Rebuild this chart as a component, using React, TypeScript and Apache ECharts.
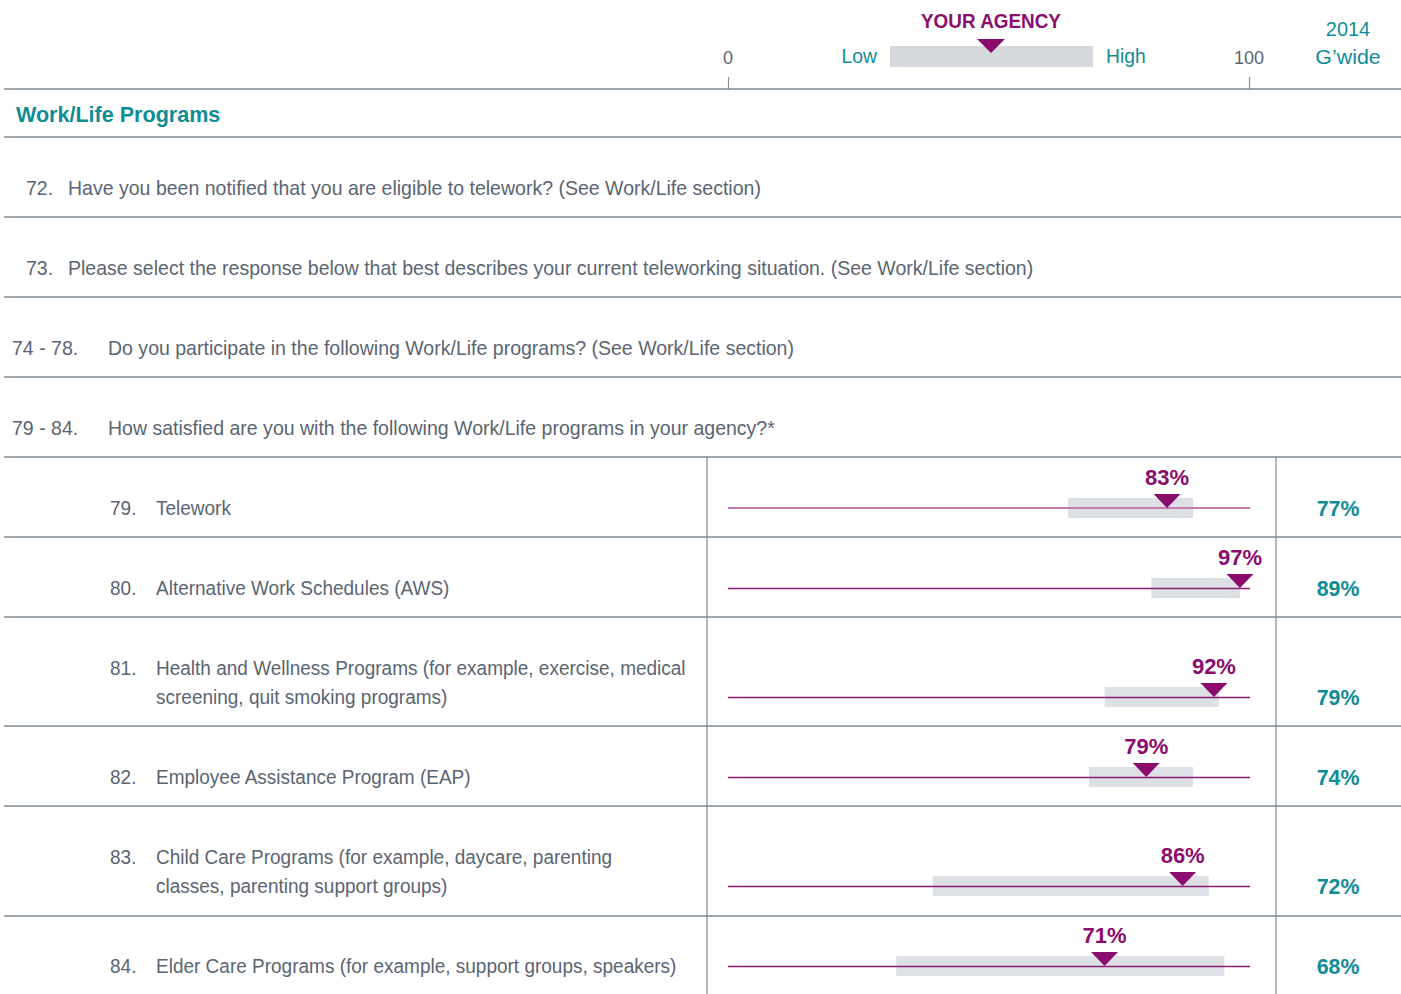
import React, { useEffect, useRef } from 'react';
import * as echarts from 'echarts';

// ---------- data ----------
const introNumbers = ['72.', '73.', '74 - 78.', '79 - 84.'];
const introTexts = [
  'Have you been notified that you are eligible to telework? (See Work/Life section)',
  'Please select the response below that best describes your current teleworking situation. (See Work/Life section)',
  'Do you participate in the following Work/Life programs? (See Work/Life section)',
  'How satisfied are you with the following Work/Life programs in your agency?*',
];
const itemNumbers = ['79.', '80.', '81.', '82.', '83.', '84.'];
const itemLabels = [
  'Telework',
  'Alternative Work Schedules (AWS)',
  'Health and Wellness Programs (for example, exercise, medical\nscreening, quit smoking programs)',
  'Employee Assistance Program (EAP)',
  'Child Care Programs (for example, daycare, parenting\nclasses, parenting support groups)',
  'Elder Care Programs (for example, support groups, speakers)',
];
const agencyScores = [83, 97, 92, 79, 86, 71];
const rangeLow = [64, 80, 71, 68, 38, 31];
const rangeHigh = [88, 97, 93, 88, 91, 94];
const govwide2014 = [77, 89, 79, 74, 72, 68];
const scaleMin = 0;
const scaleMax = 100;

// ---------- layout / style ----------
const SANS = "'Liberation Sans', Arial, sans-serif";
const TEXT = '#5a6573';
const TEAL = '#0f8c95';
const PURPLE = '#8a0d6e';
const RULE = '#7e8893';
const BAND = '#dde1e5';
const BODY_SIZE = 21;
const INTRO_SCALE = 0.93;
const ITEM_SCALE = 0.905;

const rowLineY = [508, 588, 697, 777, 886, 966];
const separators = [89, 137, 217, 297, 377, 457, 537, 617, 726, 806, 916];
const introY = [188, 268, 348, 428];
const introNumX = [26, 26, 12, 12];
const introTextX = [68, 68, 108, 108];
const LINE_H = 29;

function txt(x: number, y: number, text: string, font: string, fill: string, align: string, scaleX = 1, extra: any = {}) {
  return {
    type: 'text',
    x,
    y,
    scaleX,
    silent: true,
    style: { text, font, fill, align, verticalAlign: 'middle', ...extra },
  };
}

export default function App() {
  const ref = useRef<HTMLDivElement>(null);

  useEffect(() => {
    if (!ref.current) return;
    const chart = echarts.init(ref.current, undefined, { renderer: 'svg' });

    const grids: any[] = [{ left: 728, width: 521, top: 89, height: 1 }];
    const xAxes: any[] = [
      {
        gridIndex: 0,
        type: 'value',
        position: 'top',
        min: scaleMin,
        max: scaleMax,
        interval: 100,
        axisLine: { show: false },
        axisTick: { show: true, length: 13, lineStyle: { color: '#8a939c', width: 1.2 } },
        axisLabel: { color: TEXT, fontSize: 18, fontFamily: SANS, margin: 22 },
        splitLine: { show: false },
      },
    ];
    const yAxes: any[] = [{ gridIndex: 0, type: 'value', min: 0, max: 1, show: false }];
    const series: any[] = [{ type: 'scatter', xAxisIndex: 0, yAxisIndex: 0, data: [], silent: true }];

    itemLabels.forEach((label, i) => {
      const g = i + 1;
      grids.push({ left: 728, width: 522, top: rowLineY[i] - 10, height: 20 });
      xAxes.push({ gridIndex: g, type: 'value', min: -1.3, max: 98.93, show: false });
      yAxes.push({ gridIndex: g, type: 'category', data: [label], show: false });
      series.push(
        {
          type: 'bar',
          xAxisIndex: g,
          yAxisIndex: g,
          stack: 'range' + i,
          data: [rangeLow[i]],
          barWidth: 20,
          itemStyle: { color: 'transparent' },
          silent: true,
          z: 1,
        },
        {
          type: 'bar',
          xAxisIndex: g,
          yAxisIndex: g,
          stack: 'range' + i,
          data: [rangeHigh[i] - rangeLow[i]],
          barWidth: 20,
          itemStyle: { color: BAND },
          silent: true,
          z: 1,
        },
        {
          type: 'scatter',
          xAxisIndex: g,
          yAxisIndex: g,
          data: [[agencyScores[i], 0]],
          symbol: 'triangle',
          symbolRotate: 180,
          symbolSize: [27, 14],
          symbolOffset: [0, -7],
          itemStyle: { color: PURPLE, opacity: 1 },
          silent: true,
          z: 3,
          label: {
            show: true,
            position: 'top',
            distance: 6,
            formatter: () => agencyScores[i] + '%',
            color: PURPLE,
            opacity: 1,
            fontSize: 22,
            fontWeight: 'bold',
            fontFamily: SANS,
          },
          markLine: {
            silent: true,
            symbol: ['none', 'none'],
            label: { show: false },
            lineStyle: { color: i === 0 ? '#c47aad' : '#8e1a72', width: i === 0 ? 2 : 1.3, type: 'solid', opacity: 1 },
            data: [{ yAxis: 0 }],
            z: 2,
          },
        }
      );
    });

    const graphics: any[] = [];
    separators.forEach((y) => {
      graphics.push({
        type: 'line',
        shape: { x1: 4, y1: y, x2: 1401, y2: y },
        style: { stroke: RULE, lineWidth: 1.5 },
        silent: true,
      });
    });
    [707, 1276].forEach((x) => {
      graphics.push({
        type: 'line',
        shape: { x1: x, y1: 457, x2: x, y2: 994 },
        style: { stroke: RULE, lineWidth: 1.2 },
        silent: true,
      });
    });
    graphics.push(
      txt(991, 21, 'YOUR AGENCY', `bold 21px ${SANS}`, PURPLE, 'center', 0.9),
      { type: 'rect', shape: { x: 890, y: 46, width: 203, height: 21 }, style: { fill: '#d5d9de' }, silent: true },
      { type: 'polygon', shape: { points: [[977, 39], [1005, 39], [991, 53]] }, style: { fill: PURPLE }, silent: true },
      txt(877, 56, 'Low', `21px ${SANS}`, TEAL, 'right', 0.92),
      txt(1106, 56, 'High', `21px ${SANS}`, TEAL, 'left', 0.92),
      txt(1348, 28, '2014', `21px ${SANS}`, TEAL, 'center', 0.95),
      txt(1348, 57, 'G\u2019wide', `21px ${SANS}`, TEAL, 'center', 1.02),
      txt(16, 114, 'Work/Life Programs', `bold 22px ${SANS}`, TEAL, 'left', 0.98)
    );
    introTexts.forEach((t, i) => {
      graphics.push(
        txt(introNumX[i], introY[i], introNumbers[i], `${BODY_SIZE}px ${SANS}`, TEXT, 'left', INTRO_SCALE),
        txt(introTextX[i], introY[i], t, `${BODY_SIZE}px ${SANS}`, TEXT, 'left', INTRO_SCALE)
      );
    });
    itemLabels.forEach((label, i) => {
      const n = label.split('\n').length;
      const firstY = rowLineY[i] - (n - 1) * LINE_H;
      graphics.push(
        txt(110, firstY, itemNumbers[i], `${BODY_SIZE}px ${SANS}`, TEXT, 'left', ITEM_SCALE),
        txt(156, rowLineY[i] - ((n - 1) * LINE_H) / 2, label, `${BODY_SIZE}px ${SANS}`, TEXT, 'left', ITEM_SCALE, {
          lineHeight: LINE_H,
        }),
        txt(1338, rowLineY[i], govwide2014[i] + '%', `bold 22px ${SANS}`, TEAL, 'center', 0.97)
      );
    });

    chart.setOption({
      animation: false,
      backgroundColor: '#ffffff',
      grid: grids,
      xAxis: xAxes,
      yAxis: yAxes,
      series,
      graphic: { elements: graphics },
    });

    return () => chart.dispose();
  }, []);

  return <div ref={ref} style={{ position: 'absolute', left: 0, top: 0, width: 1401, height: 994 }} />;
}
